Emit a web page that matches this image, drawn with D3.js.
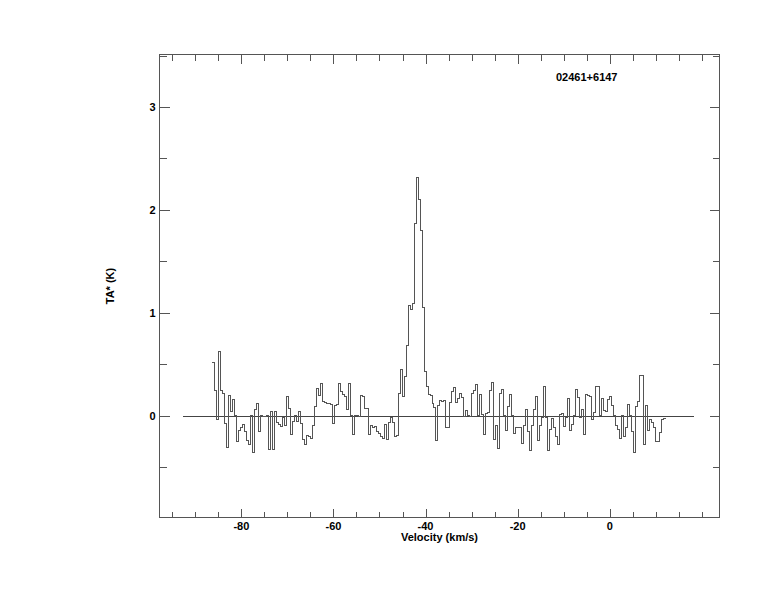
<!DOCTYPE html>
<html><head><meta charset="utf-8">
<script src="https://cdn.jsdelivr.net/npm/d3@7"></script>
<style>
html,body{margin:0;padding:0;background:#fff;}
svg text{font-family:"Liberation Sans",Arial,Helvetica,sans-serif;font-weight:bold;font-size:11px;fill:#000;}
svg line, svg rect, svg path{shape-rendering:crispEdges;}
</style>
</head><body>
<svg id="chart" width="774" height="612"></svg>
<script>
// ---- data ----
const title = "02461+6147";
const xLabel = "Velocity (km/s)";
const yLabel = "TA* (K)";
const startVelocity = -86.29;   // km/s, left edge of first channel
const channelWidth = 0.4336;    // km/s
const baselineRange = [-92.6, 18.4];
const xTickLabels = [-80, -60, -40, -20, 0];
const yTickLabels = [0, 1, 2, 3];
const antennaTemp = [
  // -86 .. -70
  0.52, 0.24, -0.04, 0.62, 0.24, 0.22, -0.08, -0.31, 0.20, 0.04,
  0.16, 0.00, -0.25, -0.14, -0.12, -0.09, -0.15, -0.24, -0.28, 0.00,
  -0.36, 0.06, 0.12, -0.15, 0.00, -0.01, -0.01, 0.00, -0.33, 0.04,
  -0.33, 0.04, -0.07, -0.09, -0.11, -0.02, -0.10, 0.19,
  // -70 .. -53
  0.07, -0.18, -0.06, 0.00, -0.06, 0.04, -0.08, -0.23, -0.28, -0.19,
  -0.20, -0.22, -0.10, 0.09, 0.26, 0.20, 0.31, 0.14, 0.13, 0.12,
  0.12, 0.11, -0.08, 0.10, 0.11, 0.31, 0.23, 0.21, 0.19, 0.06,
  0.31, 0.00, -0.18, 0.00, 0.00, -0.01, 0.20, 0.19, 0.07,
  // -53 .. -36 (line)
  0.07, -0.18, -0.10, -0.12, -0.11, -0.15, -0.17, -0.20, -0.22, -0.09,
  -0.23, -0.07, -0.02, -0.07, -0.20, -0.19, 0.22, 0.45, 0.19, 0.38,
  0.68, 1.07, 1.03, 1.09, 1.87, 2.31, 2.10, 1.80, 1.05, 0.43,
  0.28, 0.21, 0.20, 0.12, 0.08, -0.24, 0.10, 0.15, 0.14,
  // -36 .. -19
  0.15, -0.12, -0.12, 0.13, 0.23, 0.27, 0.13, 0.17, 0.22, 0.18,
  -0.01, 0.05, 0.00, -0.01, 0.22, 0.24, 0.30, 0.00, 0.21, 0.01,
  -0.18, 0.02, 0.03, 0.24, 0.32, -0.23, -0.10, -0.32, 0.22, 0.25,
  0.00, -0.14, 0.09, 0.21, 0.00, -0.17, -0.12, -0.12, -0.12,
  // -19 .. -2
  -0.27, -0.10, 0.06, -0.15, -0.34, -0.10, 0.06, 0.19, -0.24, -0.10,
  -0.02, 0.28, -0.02, -0.34, -0.13, -0.03, -0.12, -0.20, -0.28, 0.01,
  0.02, -0.11, -0.02, 0.17, -0.14, -0.09, 0.00, 0.25, 0.18, -0.02,
  0.06, -0.18, 0.21, 0.20, 0.19, -0.04, 0.03, 0.28, 0.28,
  // -2 .. 12
  0.00, 0.17, 0.05, 0.04, 0.16, 0.19, 0.10, 0.00, -0.10, -0.13,
  -0.22, 0.00, -0.20, -0.12, 0.11, 0.00, -0.15, -0.36, 0.09, 0.14,
  0.39, 0.39, -0.28, 0.10, -0.14, -0.04, -0.07, -0.12, -0.25, -0.25,
  -0.16, -0.04, -0.03
];

// ---- layout ----
const svg = d3.select("#chart");
const L = 159.5, R = 719.5, T = 54.5, B = 517.5;
const x = d3.scaleLinear().domain([-97.78, 23.85]).range([L, R]);
const y = d3.scaleLinear().domain([-0.99, 3.51]).range([B, T]);
const frameColor = "#555";

// frame
svg.append("rect").attr("x", L).attr("y", T).attr("width", R - L).attr("height", B - T)
  .attr("fill", "none").attr("stroke", frameColor).attr("stroke-width", 1);

// x ticks (bottom & top, inward)
const xMinor = d3.range(-95, 24, 5);
const xMajorSet = new Set(xTickLabels);
xMinor.forEach(v => {
  const len = xMajorSet.has(v) ? 9 : 6;
  const px = Math.round(x(v)) + 0.5;
  svg.append("line").attr("x1", px).attr("x2", px).attr("y1", B).attr("y2", B - len)
    .attr("stroke", frameColor);
  svg.append("line").attr("x1", px).attr("x2", px).attr("y1", T).attr("y2", T + len)
    .attr("stroke", frameColor);
});
xTickLabels.forEach(v => {
  svg.append("text").attr("x", x(v)).attr("y", B + 12).attr("text-anchor", "middle").text(v);
});

// y ticks (left & right, inward)
const yMinor = d3.range(-0.5, 3.51, 0.5);
yMinor.forEach(v => {
  const major = Math.abs(v - Math.round(v)) < 1e-6;
  const len = major ? 10 : 7;
  const py = Math.round(y(v)) + 0.5;
  svg.append("line").attr("x1", L).attr("x2", L + len).attr("y1", py).attr("y2", py)
    .attr("stroke", frameColor);
  svg.append("line").attr("x1", R).attr("x2", R - len).attr("y1", py).attr("y2", py)
    .attr("stroke", frameColor);
});
yTickLabels.forEach(v => {
  svg.append("text").attr("x", L - 4).attr("y", y(v) + 4).attr("text-anchor", "end").text(v);
});

// axis titles
svg.append("text").attr("x", (L + R) / 2).attr("y", B + 23).attr("text-anchor", "middle").text(xLabel);
svg.append("text").attr("transform", `translate(${114},${(T + B) / 2}) rotate(-90)`)
  .attr("text-anchor", "middle").text(yLabel);
svg.append("text").attr("x", 556).attr("y", 81).text(title);

// baseline
svg.append("line").attr("x1", x(baselineRange[0])).attr("x2", x(baselineRange[1]))
  .attr("y1", Math.round(y(0)) + 0.5).attr("y2", Math.round(y(0)) + 0.5)
  .attr("stroke", "#444");

// spectrum as step histogram
const pts = [];
antennaTemp.forEach((t, i) => {
  const v0 = startVelocity + i * channelWidth;
  pts.push([v0, t]);
  pts.push([v0 + channelWidth, t]);
});
const line = d3.line().x(d => x(d[0])).y(d => y(d[1]));
svg.append("path").attr("d", line(pts)).attr("fill", "none")
  .attr("stroke", "#555").attr("stroke-width", 1);
</script>
</body></html>
